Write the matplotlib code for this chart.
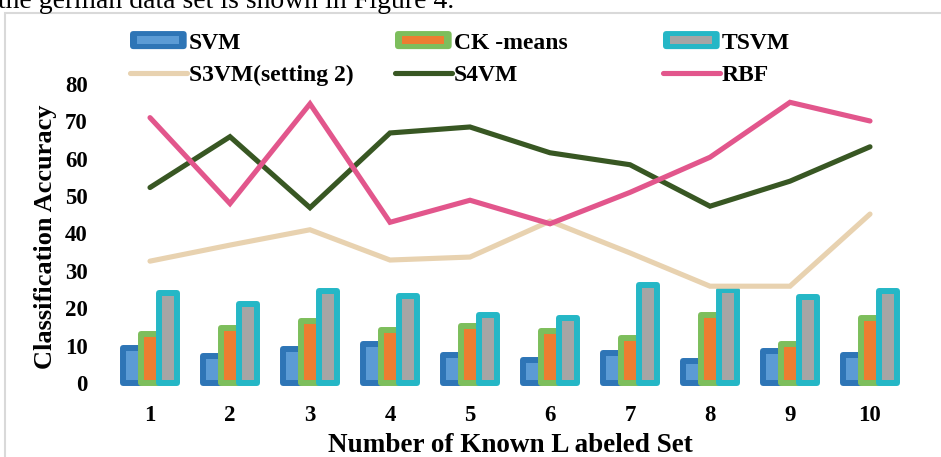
import matplotlib
matplotlib.use("Agg")
import matplotlib.pyplot as plt
import numpy as np
from matplotlib.patches import Patch, Rectangle, FancyBboxPatch
from matplotlib.lines import Line2D

# accuracy per labeled-set size
sets = [1, 2, 3, 4, 5, 6, 7, 8, 9, 10]
svm = [9.4, 7.3, 9.2, 10.3, 7.6, 6.2, 7.9, 5.9, 8.6, 7.6]
ck_means = [13.1, 14.7, 16.5, 14.1, 15.2, 13.9, 12.0, 18.2, 10.3, 17.5]
tsvm = [24.2, 21.2, 24.5, 23.4, 18.2, 17.5, 26.2, 25.0, 23.0, 24.6]
s3vm = [32.6, 36.9, 41.0, 32.9, 33.7, 43.3, 34.8, 25.9, 25.9, 45.2]
s4vm = [52.3, 65.9, 46.9, 66.9, 68.5, 61.6, 58.4, 47.3, 54.0, 63.2]
rbf = [71.0, 48.0, 74.7, 43.0, 48.9, 42.6, 51.0, 60.4, 75.1, 70.1]

SERIF = "Liberation Serif"

bar_series = [
    ("SVM", svm, "#5B9BD5", "#2E75B6"),
    ("CK -means", ck_means, "#ED7D31", "#7DBE5C"),
    ("TSVM", tsvm, "#A5A5A5", "#25B7C6"),
]
line_series = [
    ("S3VM(setting 2)", s3vm, "#E8D2B0"),
    ("S4VM", s4vm, "#385723"),
    ("RBF", rbf, "#E2568C"),
]


class BarHandler:
    """Legend key: rounded outer block with a lighter stripe inside."""

    def legend_artist(self, legend, orig_handle, fontsize, handlebox):
        x0, y0 = handlebox.xdescent, handlebox.ydescent
        w, h = handlebox.width, handlebox.height
        hh = 13.0  # key height in points
        yc = y0 + h / 2
        outer = FancyBboxPatch((x0, yc - hh / 2), w, hh,
                               boxstyle="round,pad=0,rounding_size=2.5",
                               fc=orig_handle.get_edgecolor(), ec="none",
                               transform=handlebox.get_transform())
        inner = Rectangle((x0 + 0.13 * w, yc - hh * 0.2), 0.74 * w, hh * 0.4,
                          fc=orig_handle.get_facecolor(), ec="none",
                          transform=handlebox.get_transform())
        handlebox.add_artist(outer)
        handlebox.add_artist(inner)
        return outer


fig = plt.figure(figsize=(9.41, 4.57), dpi=100)
ax = fig.add_axes([110 / 941, 1 - 388.6 / 457, 800 / 941, (388.6 - 84) / 457])

x = np.array(sets, dtype=float)
step = 0.219
for i, (name, vals, inner, outer) in enumerate(bar_series):
    ax.bar(x + (i - 1) * step, vals, width=0.225, color=inner, edgecolor=outer,
           linewidth=4.3, joinstyle="round", zorder=2 + i)

for j, (name, vals, color) in enumerate(line_series):
    ax.plot(x, vals, color=color, lw=3.7, solid_capstyle="round",
            solid_joinstyle="miter", zorder=6 + j)

ax.set_xlim(0.5, 10.5)
ax.set_ylim(-1.5, 80)
ax.set_yticks(range(0, 81, 10))
ax.set_xticks(sets)
for s in ax.spines.values():
    s.set_visible(False)
ax.tick_params(length=0)
ax.tick_params(axis="y", pad=16)
ax.tick_params(axis="x", pad=12)
for lab in ax.get_xticklabels() + ax.get_yticklabels():
    lab.set_fontfamily(SERIF)
    lab.set_fontweight("bold")
    lab.set_fontsize(16.5)

ax.set_ylabel("Classification Accuracy", family=SERIF, weight="bold",
              fontsize=19, labelpad=6)
ax.set_xlabel("Number of Known L abeled Set", family=SERIF, weight="bold",
              fontsize=19.5, labelpad=5)

# legend: three fixed-width columns, two rows each
bar_handles = [Patch(facecolor=c_in, edgecolor=c_out) for _, _, c_in, c_out in bar_series]
line_handles = [Line2D([], [], color=c, lw=3.7, solid_capstyle="round")
                for _, _, c in line_series]
col_x = [130, 395, 663]
for k in range(3):
    leg = fig.legend([bar_handles[k], line_handles[k]],
                     [bar_series[k][0], line_series[k][0]],
                     loc="upper left", bbox_to_anchor=(col_x[k] / 941, 1 - 32 / 457),
                     frameon=False, borderpad=0, borderaxespad=0,
                     handlelength=2.4, handleheight=0.72, handletextpad=0.1,
                     labelspacing=0.45,
                     prop={"family": SERIF, "weight": "bold", "size": 17},
                     handler_map={Patch: BarHandler()})

# chart frame and the line of body text above it
fig.patches.append(Rectangle((5 / 941, -0.05), 1.0, 1 - 13 / 457 + 0.05,
                             transform=fig.transFigure, fill=False,
                             ec="#D9D9D9", lw=1.5))
fig.text(-2 / 941, 1 - 8 / 457, "the german data set is shown in Figure 4.",
         family=SERIF, fontsize=20, va="baseline", ha="left")

fig.savefig("out.png", dpi=100)
